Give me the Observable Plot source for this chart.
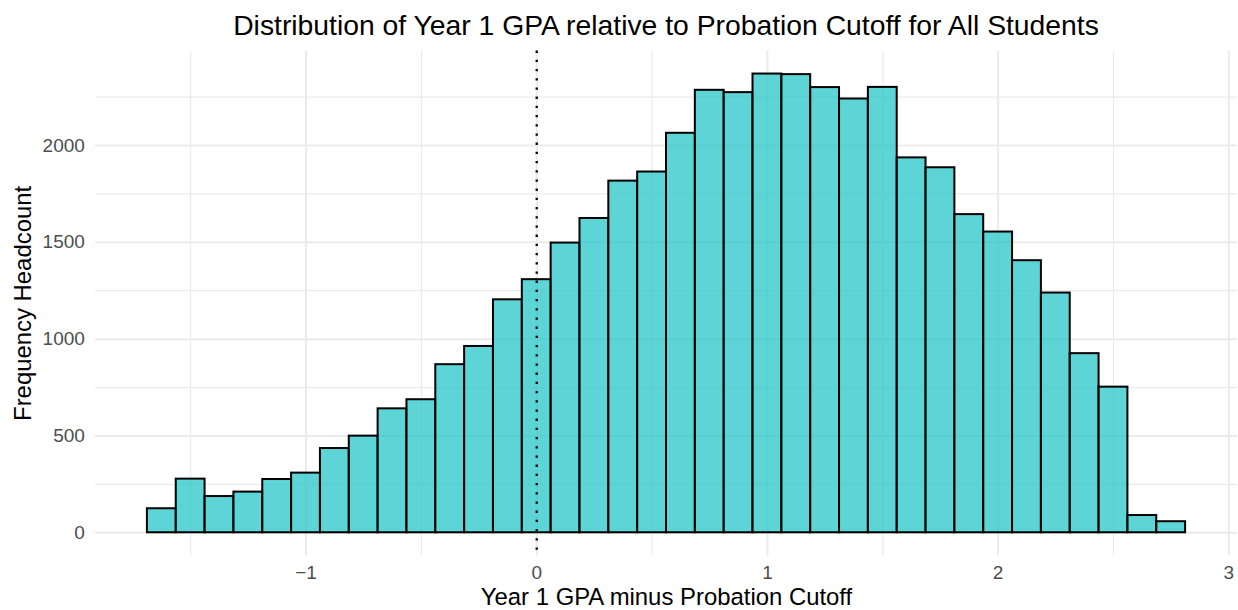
<!DOCTYPE html>
<html>
<head>
<meta charset="utf-8">
<script src="https://cdn.jsdelivr.net/npm/d3@7"></script>
<script src="https://cdn.jsdelivr.net/npm/@observablehq/plot@0.6"></script>
<style>
  html, body { margin: 0; padding: 0; background: #ffffff; }
  #wrap { position: relative; width: 1238px; height: 610px; overflow: hidden; font-family: "Liberation Sans", Arial, Helvetica, sans-serif; }
  #title { position: absolute; left: 95px; width: 1142px; top: 11px; height: 30px; line-height: 28px; font-size: 28.3px; text-align: center; color: #000; white-space: nowrap; }
  #chart { position: absolute; left: 0; top: 48px; }
  #chart svg { display: block; }
</style>
</head>
<body>
<div id="wrap">
  <div id="title">Distribution of Year 1 GPA relative to Probation Cutoff for All Students</div>
  <div id="chart"></div>
</div>
<script>
// ---- data ----
const binWidth = 0.125;
const binCenters = [
  -1.625, -1.5, -1.375, -1.25, -1.125, -1.0, -0.875, -0.75, -0.625, -0.5,
  -0.375, -0.25, -0.125, 0.0, 0.125, 0.25, 0.375, 0.5, 0.625, 0.75,
  0.875, 1.0, 1.125, 1.25, 1.375, 1.5, 1.625, 1.75, 1.875, 2.0,
  2.125, 2.25, 2.375, 2.5, 2.625, 2.75
];
const counts = [
  124, 277, 187, 210, 275, 308, 435, 499, 640, 687,
  868, 962, 1203, 1307, 1496, 1623, 1816, 1863, 2063, 2285,
  2273, 2369, 2366, 2299, 2240, 2300, 1936, 1885, 1643, 1553,
  1405, 1238, 925, 752, 89, 57
];
const cutoff = [0];
const xMajorTicks = [-1, 0, 1, 2, 3];
const xMinorTicks = [-1.5, -0.5, 0.5, 1.5, 2.5];
const yMajorTicks = [0, 500, 1000, 1500, 2000];
const yMinorTicks = [250, 750, 1250, 1750, 2250];
const xTitle = "Year 1 GPA minus Probation Cutoff";
const yTitle = "Frequency Headcount";

// ---- build table ----
const bins = binCenters.map((c, i) => ({x1: c - binWidth / 2, x2: c + binWidth / 2, count: counts[i]}));

// ggplot-like 5% expansion of the continuous scales
const xmin = d3.min(bins, d => d.x1), xmax = d3.max(bins, d => d.x2);
const xpad = (xmax - xmin) * 0.05;
const ymax = d3.max(counts);
const ypad = ymax * 0.05;

const fmtX = d => (d < 0 ? "\u2212" + Math.abs(d) : String(d));
const fmtY = d => String(d);

const gridColor = "#EBEBEB";
const font = "'Liberation Sans', Arial, Helvetica, sans-serif";

const chart = Plot.plot({
  width: 1238,
  height: 562,
  marginLeft: 95,
  marginRight: 1,
  marginTop: 2.6,
  marginBottom: 54.8,
  style: {fontFamily: font, background: "#ffffff", color: "#4D4D4D", overflow: "visible"},
  x: {domain: [xmin - xpad, xmax + xpad]},
  y: {domain: [-ypad, ymax + ypad]},
  marks: [
    Plot.ruleY(yMinorTicks, {stroke: gridColor, strokeWidth: 1.2}),
    Plot.ruleX(xMinorTicks, {stroke: gridColor, strokeWidth: 1.2}),
    Plot.ruleY(yMajorTicks, {stroke: gridColor, strokeWidth: 2}),
    Plot.ruleX(xMajorTicks, {stroke: gridColor, strokeWidth: 2}),
    Plot.rectY(bins, {
      x1: "x1", x2: "x2", y1: 0, y2: "count",
      fill: "#1FC4C5", fillOpacity: 0.72,
      stroke: "#000000", strokeWidth: 2
    }),
    Plot.ruleX(cutoff, {stroke: "#000000", strokeWidth: 2.3, strokeDasharray: "2.3,6.9"}),
    Plot.axisX(xMajorTicks, {
      tickSize: 0, tickPadding: 9.3, tickFormat: fmtX, label: null,
      fontSize: 19, fill: "#4D4D4D"
    }),
    Plot.axisY(yMajorTicks, {
      tickSize: 0, tickPadding: 10.6, tickFormat: fmtY, label: null,
      fontSize: 19, fill: "#4D4D4D"
    }),
    Plot.text([xTitle], {
      text: d => d, frameAnchor: "bottom", dy: 49, lineAnchor: "bottom",
      fontSize: 23.9, fill: "#000000", textAnchor: "middle"
    }),
    Plot.text([yTitle], {
      text: d => d, frameAnchor: "left", dx: -72.5, rotate: -90,
      fontSize: 23.9, fill: "#000000", textAnchor: "middle"
    })
  ]
});

document.getElementById("chart").appendChild(chart);
</script>
</body>
</html>
